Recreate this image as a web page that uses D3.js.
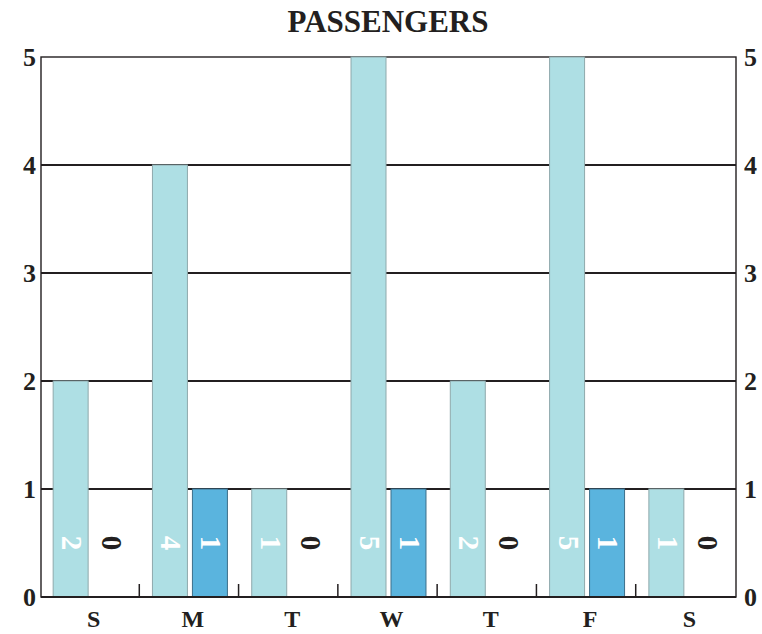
<!DOCTYPE html>
<html>
<head>
<meta charset="utf-8">
<script src="https://cdn.jsdelivr.net/npm/d3@7"></script>
<style>
  body { margin: 0; background: #fff; }
  svg text { font-family: "Liberation Serif", "Times New Roman", serif; font-weight: bold; }
</style>
</head>
<body>
<svg width="762" height="634"></svg>
<script>
var days = ["S", "M", "T", "W", "T", "F", "S"];
var series = ["first", "second"];
var firstValues = [2, 4, 1, 5, 2, 5, 1];
var secondValues = [0, 1, 0, 1, 0, 1, 0];
var yTicks = [0, 1, 2, 3, 4, 5];

var margin = {top: 57, right: 26, bottom: 37, left: 41};
var width = 762, height = 634;

var svg = d3.select("svg");

var x = d3.scaleBand()
    .domain(d3.range(days.length))
    .range([margin.left, width - margin.right]);

var xInner = d3.scaleBand()
    .domain(series)
    .range([0, x.bandwidth()])
    .paddingInner(0.125)
    .paddingOuter(0.304);

var y = d3.scaleLinear()
    .domain([0, 5])
    .range([height - margin.bottom, margin.top]);

var colors = {first: "#aedfe4", second: "#5ab4de"};
var strokes = {first: "#8fa9ac", second: "#3d6f8a"};

// title
svg.append("text")
    .attr("x", 388)
    .attr("y", 32)
    .attr("text-anchor", "middle")
    .style("font-size", "31px")
    .attr("fill", "#231f20")
    .text("PASSENGERS");

// gridlines
svg.append("g").selectAll("line")
    .data(yTicks.filter(function (d) { return d > 0 && d < 5; }))
    .enter().append("line")
    .attr("x1", margin.left)
    .attr("x2", width - margin.right)
    .attr("y1", function (d) { return y(d); })
    .attr("y2", function (d) { return y(d); })
    .attr("stroke", "#231f20")
    .attr("stroke-width", 2.2);

// frame
svg.append("rect")
    .attr("x", margin.left)
    .attr("y", margin.top)
    .attr("width", width - margin.right - margin.left)
    .attr("height", height - margin.bottom - margin.top)
    .attr("fill", "none")
    .attr("stroke", "#231f20")
    .attr("stroke-width", 1.4);

var rows = days.map(function (d, i) {
    return {i: i, day: d, values: [
        {key: "first", value: firstValues[i]},
        {key: "second", value: secondValues[i]}
    ]};
});

var groups = svg.append("g").selectAll("g")
    .data(rows)
    .enter().append("g")
    .attr("transform", function (d) { return "translate(" + x(d.i) + ",0)"; });

groups.selectAll("rect")
    .data(function (d) { return d.values.filter(function (v) { return v.value > 0; }); })
    .enter().append("rect")
    .attr("x", function (d) { return xInner(d.key); })
    .attr("y", function (d) { return y(d.value); })
    .attr("width", xInner.bandwidth())
    .attr("height", function (d) { return y(0) - y(d.value); })
    .attr("fill", function (d) { return colors[d.key]; })
    .attr("stroke", function (d) { return strokes[d.key]; })
    .attr("stroke-width", 1);

// value labels, rotated
groups.selectAll("text.val")
    .data(function (d) { return d.values; })
    .enter().append("text")
    .attr("class", "val")
    .attr("transform", function (d) {
        var cx = xInner(d.key) + xInner.bandwidth() / 2 + 1;
        var cy = y(0.5);
        return "translate(" + cx + "," + cy + ")rotate(90)";
    })
    .attr("text-anchor", "middle")
    .attr("dy", "0.33em")
    .style("font-size", "29px")
    .attr("fill", function (d) { return d.value > 0 ? "#ffffff" : "#231f20"; })
    .text(function (d) { return d.value; });

// bottom axis line and separator ticks
svg.append("line")
    .attr("x1", margin.left)
    .attr("x2", width - margin.right)
    .attr("y1", y(0))
    .attr("y2", y(0))
    .attr("stroke", "#231f20")
    .attr("stroke-width", 2);

svg.append("g").selectAll("line")
    .data(d3.range(1, days.length))
    .enter().append("line")
    .attr("x1", function (d) { return x(d) - 1; })
    .attr("x2", function (d) { return x(d) - 1; })
    .attr("y1", y(0))
    .attr("y2", y(0) - 13)
    .attr("stroke", "#231f20")
    .attr("stroke-width", 1.5);

// x labels
svg.append("g").selectAll("text")
    .data(rows)
    .enter().append("text")
    .attr("x", function (d) { return x(d.i) + x.bandwidth() / 2 + 3; })
    .attr("y", 627)
    .attr("text-anchor", "middle")
    .style("font-size", "24px")
    .attr("fill", "#231f20")
    .text(function (d) { return d.day; });

// y axes
var left = svg.append("g")
    .attr("transform", "translate(" + (margin.left - 5) + ",0)")
    .call(d3.axisLeft(y).tickValues(yTicks).tickSize(0).tickPadding(0).tickFormat(d3.format("d")));
var right = svg.append("g")
    .attr("transform", "translate(" + (width - margin.right + 8) + ",0)")
    .call(d3.axisRight(y).tickValues(yTicks).tickSize(0).tickPadding(0).tickFormat(d3.format("d")));

[left, right].forEach(function (g) {
    g.select(".domain").remove();
    g.selectAll("text")
        .style("font-size", "26px")
        .style("font-family", "'Liberation Serif', serif")
        .style("font-weight", "bold")
        .attr("fill", "#231f20");
});
</script>
</body>
</html>
